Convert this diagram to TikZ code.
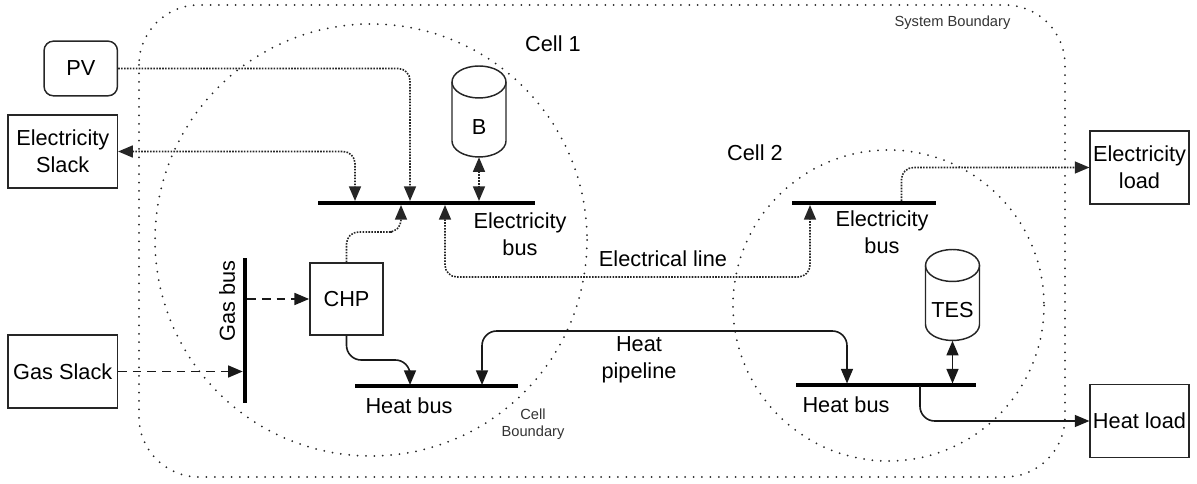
\documentclass[tikz,border=0pt]{standalone}
\usepackage{fontspec}
\setmainfont{Liberation Sans}
\usetikzlibrary{arrows.meta}
\tikzset{
  >={Triangle[length=11pt,width=9pt]},
  lbl/.style={font=\fontsize{16.3}{20}\selectfont,align=center,inner sep=0pt},
  smalllbl/.style={font=\fontsize{11}{12.8}\selectfont,align=center,inner sep=0pt,text=black!80},
  blockbox/.style={lbl,draw=black!85,line width=1.1pt,fill=white},
  tankbox/.style={inner sep=0pt,minimum width=40.5pt,minimum height=68.25pt},
  tankline/.style={draw=black!85,line width=1.1pt},
  busbar/.style={fill=black,inner sep=0pt,minimum height=3pt},
  boundary/.style={line width=1.5pt,line cap=round,dash pattern=on 0pt off 6.3pt,black!85},
  elecline/.style={line width=1.2pt,dash pattern=on 1.2pt off 1pt,rounded corners=9pt,black!85},
  heatline/.style={line width=1.2pt,rounded corners=11pt,black!90},
  gasline/.style={line width=1.3pt,dash pattern=on 6.5pt off 4.5pt,black!90}
}
\begin{document}
\begin{tikzpicture}[x=0.75pt,y=-0.75pt]
  \useasboundingbox (0,0) rectangle (1197,484);
  \draw[boundary,rounded corners=45pt] (139,5) rectangle (1065,477);
  \draw[boundary] (371,240) circle (216);
  \draw[boundary] (888.5,305.5) circle (155.5);

  \node[blockbox,rounded corners=7pt,minimum width=55pt,minimum height=41pt] (pv) at (80.75,68.5) {PV};
  \node[blockbox,minimum width=82pt,minimum height=55pt] (eslack) at (62.75,151.5) {Electricity\\Slack};
  \node[blockbox,minimum width=82pt,minimum height=55pt] (gslack) at (62.75,371.5) {Gas Slack};
  \node[blockbox,minimum width=55pt,minimum height=54pt] (chp) at (346.5,299) {CHP};
  \node[blockbox,minimum width=74pt,minimum height=55pt] (eload) at (1139.5,167.5) {Electricity\\load};
  \node[blockbox,minimum width=74pt,minimum height=55pt] (hload) at (1139.5,421) {Heat load};

  \foreach \nm/\cx/\cy/\txt in {batt/479/111.5/B, tes/952.5/295/TES} {
    \node[tankbox] (\nm) at (\cx,\cy) {};
    \node[lbl] (\nm lbl) at (\cx,\cy+15.5) {\txt};
    \begin{scope}[shift={(\cx,\cy)}]
      \draw[tankline] (0,-29.5) ellipse (27 and 16);
      \draw[tankline] (-27,-29.5) -- (-27,29.5) arc (180:0:27 and 16) -- (27,-29.5);
    \end{scope}
  }

  \node[busbar,minimum width=162.5pt] (ebusa) at (426.75,203) {};
  \node[busbar,minimum width=108pt] (ebusb) at (864.25,203) {};
  \node[busbar,minimum width=122pt] (hbusa) at (436.5,386.5) {};
  \node[busbar,minimum width=135pt] (hbusb) at (886,385) {};
  \node[fill=black,inner sep=0pt,minimum width=3pt,minimum height=109pt] (gbus) at (245,330.5) {};

  \coordinate (pvin) at (410,201);
  \coordinate (eslackin) at (355,201);
  \coordinate (battin) at (479,201);
  \coordinate (chpin) at (401,205);
  \coordinate (chpbend) at (380,232);
  \coordinate (linea) at (445,205);
  \coordinate (lineb) at (810,205);
  \coordinate (linelow) at (640,277);
  \coordinate (eout) at (901.5,201);
  \coordinate (hchpin) at (410,385);
  \coordinate (hchpbend) at (380,360);
  \coordinate (pipea) at (482,385);
  \coordinate (pipeb) at (847,383.5);
  \coordinate (pipetop) at (640,331);
  \coordinate (tesin) at (952.5,383.5);
  \coordinate (hout) at (920,386);

  \draw[elecline,->] (pv.east) -| (pvin);
  \draw[elecline,<->] (eslack.east) -| (eslackin);
  \draw[elecline,<->] (batt.south) -- (battin);
  \draw[elecline,->] (chp.north) |- (chpbend) -| (chpin);
  \draw[elecline,<->] (linea) |- (linelow) -| (lineb);
  \draw[elecline,->] (eout) |- (eload.west);
  \draw[gasline,->] (gslack.east) -- (gbus.west |- gslack.east);
  \draw[gasline,->] (gbus.east |- chp.west) -- (chp.west);
  \draw[heatline,->] (chp.south) |- (hchpbend) -| (hchpin);
  \draw[heatline,<->] (pipea) |- (pipetop) -| (pipeb);
  \draw[heatline,<->] (tes.south) -- (tesin);
  \draw[heatline,->] (hout) |- (hload.west);

  \node[lbl] (cella) at (553,44) {Cell 1};
  \node[lbl] (cellb) at (755,153) {Cell 2};
  \node[lbl] (ebusalbl) at (520,234) {Electricity\\bus};
  \node[lbl] (ebusblbl) at (882,232) {Electricity\\bus};
  \node[lbl] (linelbl) at (663,259) {Electrical line};
  \node[lbl] (pipelbl) at (639,360) {Heat\\pipeline};
  \node[lbl] (hbusalbl) at (409,406) {Heat bus};
  \node[lbl] (hbusblbl) at (846,405) {Heat bus};
  \node[lbl,rotate=90] (gbuslbl) at (227,301) {Gas bus};
  \node[smalllbl] (sysbound) at (952.5,23) {System Boundary};
  \node[smalllbl] (cellbound) at (533,424) {Cell\\Boundary};
\end{tikzpicture}
\end{document}
